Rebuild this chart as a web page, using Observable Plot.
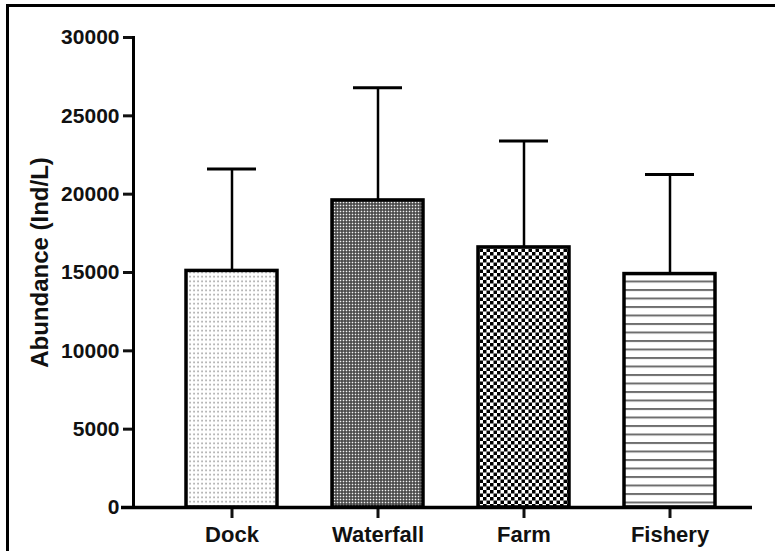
<!DOCTYPE html>
<html>
<head>
<meta charset="utf-8">
<script src="https://cdn.jsdelivr.net/npm/d3@7"></script>
<script src="https://cdn.jsdelivr.net/npm/@observablehq/plot@0.6"></script>
<style>
  html, body { margin: 0; padding: 0; background: #fff; }
  #wrap { position: relative; width: 775px; height: 551px; overflow: hidden; }
  #border { position: absolute; left: 6px; top: 4px; right: -10px; bottom: -10px;
            border-left: 3px solid #000; border-top: 3px solid #000; pointer-events: none; }
  svg { display: block; }
</style>
</head>
<body>
<div id="wrap"><div id="border"></div></div>
<script>
// ---- data ----
const sites = ["Dock", "Waterfall", "Farm", "Fishery"];
const means = [15100, 19600, 16600, 14900];
const sds = [6500, 7200, 6800, 6350];
const yTicks = [0, 5000, 10000, 15000, 20000, 25000, 30000];
const yLabel = "Abundance (Ind/L)";

// ---- styles (fill patterns) ----
const patternFills = ["url(#pDots)", "url(#pFine)", "url(#pCheck)", "url(#pLines)"];

const data = sites.map((s, i) => ({site: s, mean: means[i], sd: sds[i], upper: means[i] + sds[i]}));

const font = "'Liberation Sans', Arial, Helvetica, sans-serif";

const chart = Plot.plot({
  width: 775,
  height: 551,
  marginTop: 37,
  marginBottom: 44,
  marginLeft: 133,
  marginRight: 23,
  style: {fontFamily: font, fontWeight: "bold", fontSize: "21px", color: "#111", background: "transparent"},
  x: {domain: sites, paddingInner: 0.378, paddingOuter: 0.305, align: 0.584, label: null},
  y: {domain: [0, 30000], label: null},
  color: {domain: sites, range: patternFills},
  marks: [
    Plot.barY(data, {x: "site", y: "mean", fill: "site", stroke: "#000", strokeWidth: 3.5}),
    Plot.ruleX(data, {x: "site", y1: "mean", y2: "upper", stroke: "#000", strokeWidth: 2.5}),
    Plot.tickY(data, {x: "site", y: "upper", stroke: "#000", strokeWidth: 3, insetLeft: 21, insetRight: 21}),
    Plot.axisY({ticks: yTicks, tickFormat: d3.format("d"), tickSize: 10, tickPadding: 4, strokeWidth: 3, label: null, fontSize: 21, fontWeight: "bold"}),
    Plot.axisX({tickSize: 11, tickPadding: 8, strokeWidth: 3, label: null, fontSize: 22, fontWeight: "bold"}),
    Plot.frame({anchor: "left", stroke: "#000", strokeWidth: 3}),
    Plot.ruleY([0], {stroke: "#000", strokeWidth: 3.5, insetLeft: -12}),
    Plot.text([yLabel], {text: d => d, frameAnchor: "left", rotate: -90, dx: -93, dy: -10, textAnchor: "middle", lineAnchor: "middle", fontSize: 24, fontWeight: "bold", fill: "#111"})
  ]
});

// add pattern definitions
const svg = d3.select(chart);
const defs = svg.insert("defs", ":first-child");
// Dock: light dotted
const p1 = defs.append("pattern").attr("id", "pDots").attr("patternUnits", "userSpaceOnUse").attr("width", 4).attr("height", 4.5);
p1.append("rect").attr("width", 4).attr("height", 4.5).attr("fill", "#fff");
p1.append("rect").attr("x", 1.3).attr("y", 1.5).attr("width", 1.5).attr("height", 1.5).attr("fill", "#8f8f8f");
// Waterfall: fine mesh
const p2 = defs.append("pattern").attr("id", "pFine").attr("patternUnits", "userSpaceOnUse").attr("width", 3).attr("height", 3);
p2.append("rect").attr("width", 3).attr("height", 3).attr("fill", "#3c3c3c");
p2.append("rect").attr("x", 0.7).attr("y", 0.7).attr("width", 1.6).attr("height", 1.6).attr("fill", "#f2f2f2");
// Farm: checkerboard
const p3 = defs.append("pattern").attr("id", "pCheck").attr("patternUnits", "userSpaceOnUse").attr("width", 7).attr("height", 7);
p3.append("rect").attr("width", 7).attr("height", 7).attr("fill", "#fff");
p3.append("rect").attr("x", 0).attr("y", 0).attr("width", 3.5).attr("height", 3.5).attr("fill", "#000");
p3.append("rect").attr("x", 3.5).attr("y", 3.5).attr("width", 3.5).attr("height", 3.5).attr("fill", "#000");
// Fishery: horizontal lines
const p4 = defs.append("pattern").attr("id", "pLines").attr("patternUnits", "userSpaceOnUse").attr("width", 8.5).attr("height", 8.5);
p4.append("rect").attr("width", 8.5).attr("height", 8.5).attr("fill", "#fff");
p4.append("rect").attr("x", 0).attr("y", 0).attr("width", 8.5).attr("height", 2).attr("fill", "#6e6e6e");

document.getElementById("wrap").appendChild(chart);
</script>
</body>
</html>
